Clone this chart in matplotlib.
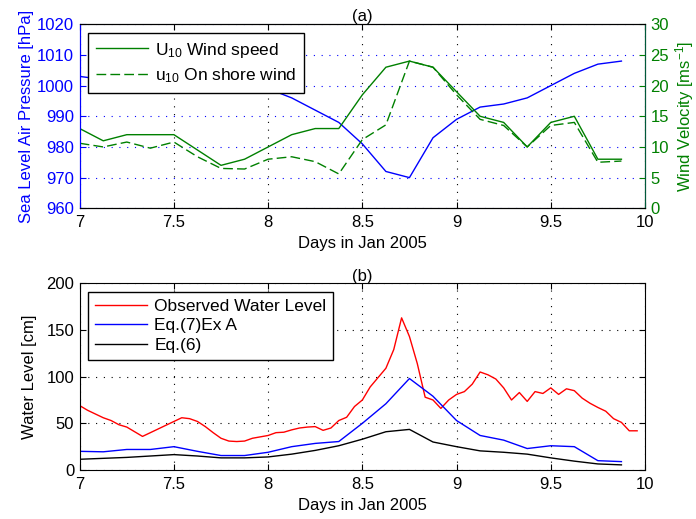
import numpy as np
import matplotlib
matplotlib.use('Agg')
import matplotlib.pyplot as plt

plt.rcParams['font.family'] = ['Liberation Sans', 'DejaVu Sans']
plt.rcParams['mathtext.fontset'] = 'custom'
plt.rcParams['mathtext.rm'] = 'Liberation Sans'
plt.rcParams['mathtext.it'] = 'Liberation Sans:italic'
plt.rcParams['mathtext.bf'] = 'Liberation Sans:bold'

# ---------------- data ----------------
# 3-hourly samples (days in Jan 2005)
days_3h = [7.0, 7.125, 7.25, 7.375, 7.5, 7.625, 7.75, 7.875,
           8.0, 8.125, 8.25, 8.375, 8.5, 8.625, 8.75, 8.875,
           9.0, 9.125, 9.25, 9.375, 9.5, 9.625, 9.75, 9.875]
pressure = [1003, 1002, 1003, 1004, 1004, 1003, 1002, 1000.5,
            999, 996, 992, 988, 981, 972, 970, 983,
            989, 993, 994, 996, 1000, 1004, 1007, 1008]
wind_speed = [13, 11, 12, 12, 12, 9.5, 7, 8,
              10, 12, 13, 13, 18.5, 23, 24, 23,
              19, 15, 14, 10, 14, 15, 8, 8]
onshore_wind = [10.6, 10, 10.8, 9.8, 10.8, 8.4, 6.5, 6.4,
                8, 8.4, 7.6, 5.6, 11.2, 13.6, 24, 23,
                18.5, 14.5, 13.5, 10, 13.5, 14, 7.5, 7.7]
eq7_exA = [20, 19.5, 22, 22, 25, 20, 15.5, 15.5,
           19, 25, 28.5, 30.5, 50, 71, 98, 79,
           53, 37, 32, 23, 26, 25, 10, 9]
eq6 = [11.5, 12.5, 13.5, 15, 16.5, 15, 13, 13,
       14, 17, 21, 26, 33, 41, 43.5, 30,
       25, 20.5, 19, 17, 13, 9.5, 6.5, 5.5]

# hourly observed water level
obs_hour = list(range(72))
observed = [69, 64, 60, 56, 53, 48.5, 46, 41, 36, 40, 44, 48,
            52, 56, 55, 52, 46.5, 40, 34, 31, 30.5, 31, 34, 35.5,
            37, 40, 40.5, 43, 45, 46, 46.5, 42.5, 45, 53, 56.5, 68,
            75, 89, 99, 109, 129, 163, 143, 114, 78, 75, 66, 75,
            81, 84, 92, 105, 102, 97.5, 88, 75, 83, 73.5, 84, 82,
            88, 81, 87, 85, 77, 71.5, 67, 63, 55, 51, 42, 42]
obs_days = [7 + h / 24 for h in obs_hour]

xticks = [7, 7.5, 8, 8.5, 9, 9.5, 10]
xticklabels = ['7', '7.5', '8', '8.5', '9', '9.5', '10']

BLUE = '#0000ff'
GREEN = '#008000'
RED = '#ff0000'
FS = 12
LFS = 12.5
dot = (0, (1, 6))

fig = plt.figure(figsize=(6.96, 5.19), dpi=100)

# ---------------- (a) ----------------
ax1 = fig.add_axes([0.1145, 0.5987, 0.8122, 0.3545])
ax1.plot(days_3h, pressure, color=BLUE, lw=1.0)
ax1.set_xlim(7, 10)
ax1.set_ylim(960, 1020)
ax1.set_yticks(range(960, 1021, 10))
ax1.set_xticks(xticks)
ax1.set_xticklabels(xticklabels)
ax1.set_axisbelow(True)
ax1.grid(axis='x', color='k', linestyle=dot, lw=0.8)
ax1.grid(axis='y', color=BLUE, linestyle=dot, lw=0.8)
ax1.tick_params(axis='x', direction='in', top=True, labelsize=FS, pad=5, length=4)
ax1.tick_params(axis='y', direction='in', colors=BLUE, labelsize=FS, pad=4, length=4)
ax1.spines['left'].set_color(BLUE)
ax1.set_ylabel('Sea Level Air Pressure [hPa]', color=BLUE, fontsize=FS)
ax1.yaxis.set_label_coords(-0.081, 0.5)
ax1.set_xlabel('Days in Jan 2005', fontsize=FS, labelpad=4)
ax1.set_title('(a)', fontsize=FS, pad=2)

ax2 = ax1.twinx()
ax2.plot(days_3h, wind_speed, color=GREEN, lw=1.0, label='U$_{10}$ Wind speed')
ax2.plot(days_3h, onshore_wind, color=GREEN, lw=1.0, dashes=(7, 3),
         label='u$_{10}$ On shore wind')
ax2.set_ylim(0, 30)
ax2.set_yticks(range(0, 31, 5))
ax2.tick_params(axis='y', direction='in', colors=GREEN, labelsize=FS, pad=4, length=4)
ax2.spines['right'].set_color('#005a3a')
ax2.spines['left'].set_color(BLUE)
ax2.set_ylabel('Wind Velocity [ms$^{-1}$]', color=GREEN, fontsize=FS)
ax2.yaxis.set_label_coords(1.049, 0.5)
leg = ax2.legend(loc='upper left', bbox_to_anchor=(0.0152, 0.954), borderaxespad=0,
                 fontsize=LFS, fancybox=False, framealpha=1, edgecolor='k',
                 handlelength=3.0, handletextpad=0.4, labelspacing=0.4, borderpad=0.45)
leg.get_frame().set_linewidth(1.0)

# ---------------- (b) ----------------
ax3 = fig.add_axes([0.1145, 0.0944, 0.8122, 0.3597])
ax3.plot(obs_days, observed, color=RED, lw=1.0, label='Observed Water Level')
ax3.plot(days_3h, eq7_exA, color=BLUE, lw=1.0, label='Eq.(7)Ex A')
ax3.plot(days_3h, eq6, color='k', lw=1.0, label='Eq.(6)')
ax3.set_xlim(7, 10)
ax3.set_ylim(0, 200)
ax3.set_yticks(range(0, 201, 50))
ax3.set_xticks(xticks)
ax3.set_xticklabels(xticklabels)
ax3.set_axisbelow(True)
ax3.grid(color='k', linestyle=dot, lw=0.8)
ax3.tick_params(direction='in', top=True, right=True, labelsize=FS, pad=5, length=4)
ax3.tick_params(axis='y', pad=4)
ax3.set_ylabel('Water Level [cm]', fontsize=FS)
ax3.yaxis.set_label_coords(-0.0755, 0.5)
ax3.set_xlabel('Days in Jan 2005', fontsize=FS, labelpad=4)
ax3.set_title('(b)', fontsize=FS, pad=2)
leg2 = ax3.legend(loc='upper left', bbox_to_anchor=(0.0152, 0.955), borderaxespad=0,
                  fontsize=LFS, fancybox=False, framealpha=1, edgecolor='k',
                  handlelength=3.0, handletextpad=0.4, labelspacing=0.25, borderpad=0.4)
leg2.get_frame().set_linewidth(1.0)

fig.savefig('out.png', dpi=100)
